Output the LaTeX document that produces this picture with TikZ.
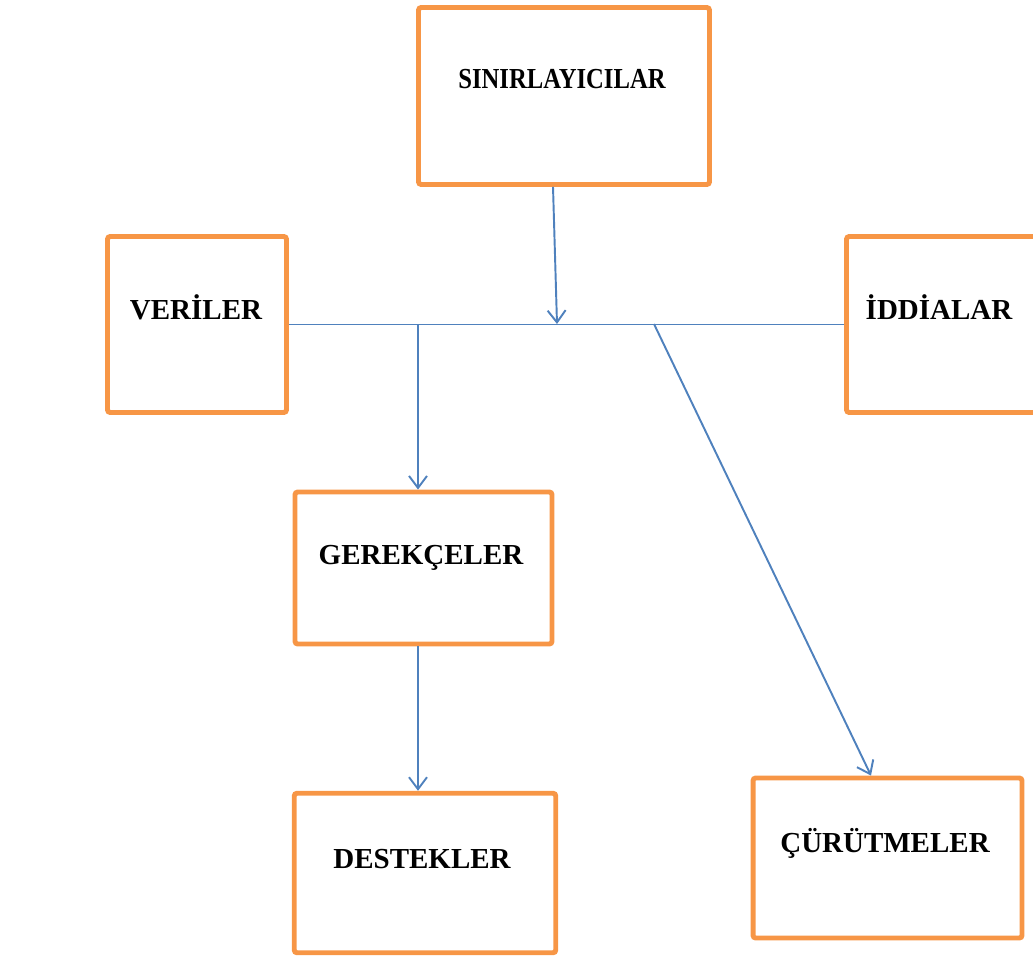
\documentclass[tikz,border=0pt]{standalone}
\usepackage{fontspec}
\setmainfont{Liberation Serif}
\usetikzlibrary{arrows.meta}

\definecolor{boxorange}{HTML}{F79646}
\definecolor{lineblue}{HTML}{4F81BD}

\tikzset{
    orangebox/.style={draw=boxorange, line width=2.8pt, rounded corners=1.5pt, rectangle, inner sep=0pt},
    tagtext/.style={anchor=base, font=\fontsize{16.5}{18}\selectfont\bfseries, inner sep=0pt},
    flow/.style={draw=lineblue, line width=1.1pt},
    flowarrow/.style={flow, -{Straight Barb[length=0.24cm, width=0.36cm, line width=1.1pt]}}
}

\begin{document}
\begin{tikzpicture}[x=0.02cm, y=-0.02cm]
                \useasboundingbox (0,0) rectangle (1033,959);
                \clip (0,0) rectangle (1033,959);
                % boxes
                \node[orangebox, minimum width=5.82cm, minimum height=3.54cm] (sinir) at (564,96) {};
                \node[orangebox, minimum width=3.58cm, minimum height=3.52cm] (veri) at (197,324.5) {};
                \node[orangebox, minimum width=3.90cm, minimum height=3.52cm] (iddia) at (944,324.5) {};
                \node[orangebox, minimum width=5.14cm, minimum height=3.04cm] (gerek) at (423.5,568) {};
                \node[orangebox, minimum width=5.23cm, minimum height=3.19cm] (destek) at (425,873) {};
                \node[orangebox, minimum width=5.38cm, minimum height=3.20cm] (curut) at (887.5,858) {};
                % labels
                \node[tagtext] (sinirtext) at (562,89) {\scalebox{0.85}[1]{SINIRLAYICILAR}};
                \node[tagtext] (veritext) at (196,319) {VERİLER};
                \node[tagtext] (iddiatext) at (939,319) {İDDİALAR};
                \node[tagtext] (gerektext) at (421,564) {GEREKÇELER};
                \node[tagtext] (destektext) at (422,868) {DESTEKLER};
                \node[tagtext] (curuttext) at (885,852) {ÇÜRÜTMELER};
                % junctions on the main line
                \coordinate (mid) at (557,324);
                \coordinate (down) at (418,324);
                \coordinate (slant) at (654,324);
                % connectors
                \draw[flow] (veri.east) -- (iddia.west);
                \draw[flowarrow] ([xshift=-0.22cm]sinir.south) -- (mid);
                \draw[flowarrow] (down) -- (down |- gerek.north);
                \draw[flowarrow] (down |- gerek.south) -- (down |- destek.north);
                \draw[flowarrow] (slant) -- ([xshift=-0.33cm]curut.north);
\end{tikzpicture}
\end{document}
